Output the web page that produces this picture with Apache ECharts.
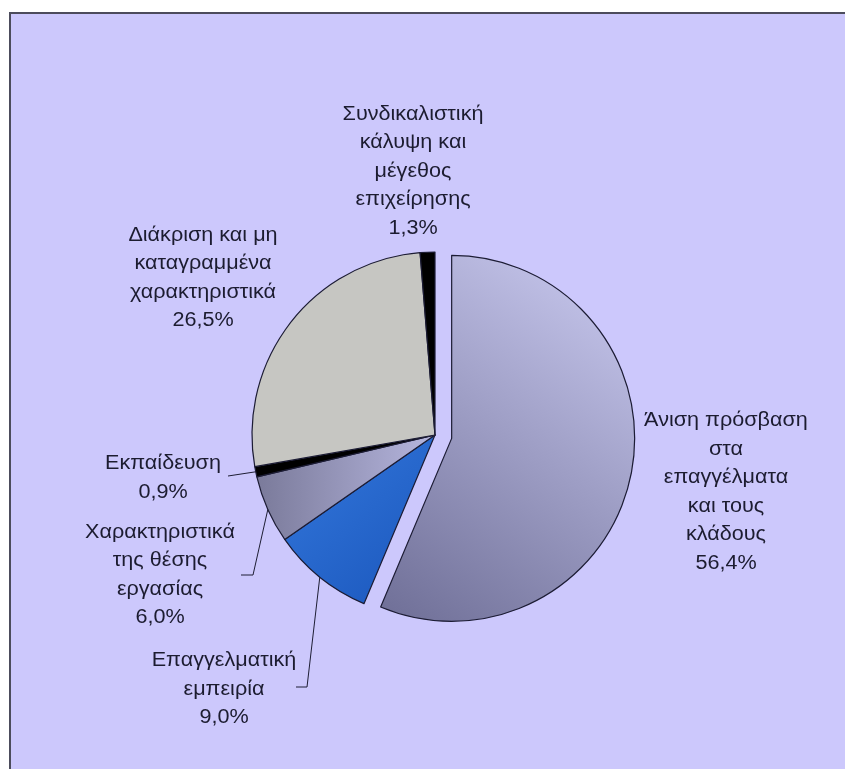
<!DOCTYPE html>
<html>
<head>
<meta charset="utf-8">
<style>
  html, body { margin: 0; padding: 0; background: #ffffff; }
  #chart { width: 845px; height: 769px; }
</style>
<script src="https://cdn.jsdelivr.net/npm/echarts@6/dist/echarts.min.js"></script>
</head>
<body>
<div id="chart"></div>
<script>
// Components of the gap, in drawing order (clockwise from 12 o'clock)
const categories = [
  'Άνιση πρόσβαση\nστα\nεπαγγέλματα\nκαι τους\nκλάδους',
  'Επαγγελματική\nεμπειρία',
  'Χαρακτηριστικά\nτης θέσης\nεργασίας',
  'Εκπαίδευση',
  'Διάκριση και μη\nκαταγραμμένα\nχαρακτηριστικά',
  'Συνδικαλιστική\nκάλυψη και\nμέγεθος\nεπιχείρησης'
];
const shares = [56.4, 9.0, 6.0, 0.9, 26.5, 1.3];

// Slice fills
const fills = [
  { type: 'linear', x: 1, y: 0, x2: 0, y2: 1,
    colorStops: [{ offset: 0, color: '#CCCCF2' }, { offset: 1, color: '#6E6E96' }] },
  { type: 'linear', x: 0, y: 0, x2: 1, y2: 1,
    colorStops: [{ offset: 0, color: '#3478DC' }, { offset: 1, color: '#1A56BC' }] },
  { type: 'linear', x: 0, y: 0, x2: 1, y2: 0,
    colorStops: [{ offset: 0, color: '#7A7A9A' }, { offset: 1, color: '#B6B6DE' }] },
  '#000000',
  '#C6C6C2',
  '#000000'
];

const CX = 435, CY = 435, R = 183;

// Label block centres and leader-line elbows
const labelCentres = [
  [726, 492], [224, 689], [160, 575], [163, 478], [203, 278], [413, 171]
];
const leaderBends = [
  null,
  [[307, 687], [296, 687]],
  [[253, 575], [241, 575]],
  [[228, 476]],
  null,
  null
];

// Point on the rim at the middle of slice i
function rimPoint(i) {
  const total = shares.reduce((a, b) => a + b, 0);
  let before = 0;
  for (let k = 0; k < i; k++) before += shares[k];
  const a = (before + shares[i] / 2) / total * 2 * Math.PI;
  return [CX + R * Math.sin(a), CY - R * Math.cos(a)];
}

const chart = echarts.init(document.getElementById('chart'));

const data = shares.map((v, i) => ({
  name: categories[i],
  value: v,
  selected: i === 0,
  itemStyle: { color: fills[i] },
  label: { show: false }
}));

const labelFont = {
  fontFamily: 'Liberation Sans, Arial, sans-serif',
  fontSize: 20,
  lineHeight: 28.5,
  fill: '#1C1C30',
  align: 'center',
  verticalAlign: 'middle'
};

const graphics = [{
  type: 'rect',
  z: -10,
  shape: { x: 10, y: 13, width: 860, height: 790 },
  style: { fill: '#CCC8FC', stroke: '#4C4C5C', lineWidth: 2 }
}];

shares.forEach((v, i) => {
  graphics.push({
    type: 'text',
    z: 10,
    x: labelCentres[i][0],
    y: labelCentres[i][1],
    scaleX: 1.08,
    style: Object.assign({
      text: categories[i] + '\n' + v.toFixed(1).replace('.', ',') + '%'
    }, labelFont)
  });
  if (leaderBends[i]) {
    graphics.push({
      type: 'polyline',
      z: 10,
      shape: { points: [rimPoint(i)].concat(leaderBends[i]) },
      style: { stroke: '#1E1E34', lineWidth: 1, fill: null }
    });
  }
});

chart.setOption({
  backgroundColor: '#ffffff',
  animation: false,
  graphic: graphics,
  series: [{
    type: 'pie',
    center: [CX, CY],
    radius: R,
    startAngle: 90,
    clockwise: true,
    selectedMode: 'single',
    selectedOffset: 17,
    silent: true,
    itemStyle: { borderColor: '#1C1C34', borderWidth: 1.2 },
    label: { show: false },
    labelLine: { show: false },
    data: data
  }]
});
</script>
</body>
</html>
